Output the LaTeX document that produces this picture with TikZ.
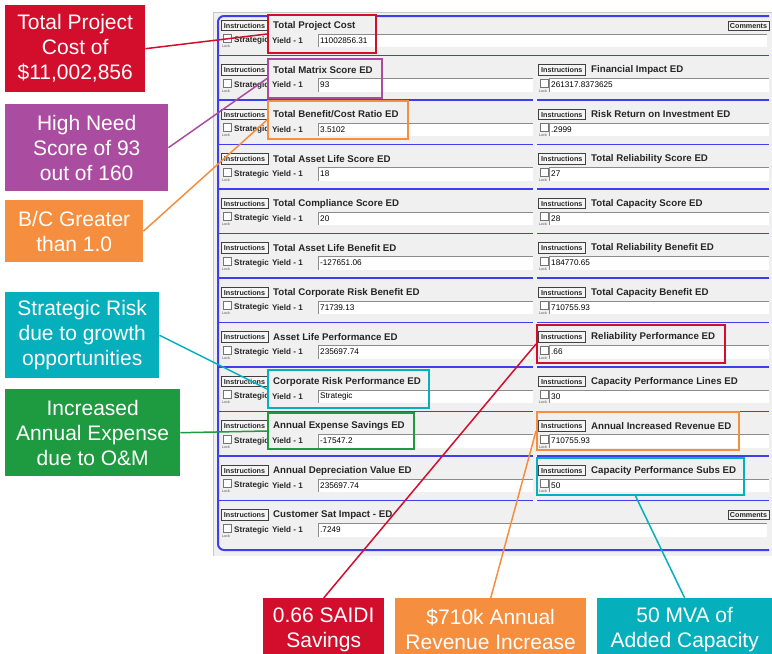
\documentclass[tikz,border=0pt]{standalone}
\usepackage{fontspec}
\setmainfont{Liberation Sans}
\newfontfamily\callfont{Liberation Sans}
\definecolor{formbg}{RGB}{240,240,240}
\definecolor{sepblue}{RGB}{62,62,238}
\definecolor{cred}{RGB}{210,14,44}
\definecolor{cpurple}{RGB}{170,77,160}
\definecolor{corange}{RGB}{245,142,62}
\definecolor{cteal}{RGB}{5,175,187}
\definecolor{cgreen}{RGB}{30,154,64}
\tikzset{
  btn/.style={draw=black!75, fill=black!4, line width=0.7pt, inner sep=0pt, minimum width=47pt, minimum height=10.5pt, font=\bfseries\fontsize{7.2}{8}\selectfont, text=black!85},
  cbtn/.style={btn, minimum width=41pt, minimum height=9.5pt},
  ttl/.style={anchor=west, inner sep=0pt, font=\bfseries\fontsize{9.7}{11}\selectfont, text=black!85},
  lbl/.style={inner sep=0pt, font=\bfseries\fontsize{8.1}{9}\selectfont, text=black!85},
  val/.style={anchor=west, inner sep=0pt, font=\fontsize{8.2}{9}\selectfont, text=black},
  chk/.style={draw=black!55, fill=white, line width=0.6pt, minimum size=8pt, inner sep=0pt},
  lck/.style={inner sep=0pt, font=\fontsize{3.6}{4}\selectfont, text=black!70},
  hbox/.style={draw=#1, line width=2pt, inner sep=0pt, anchor=north west},
  callout/.style={fill=#1, text=white, inner sep=0pt, anchor=north west, align=center, font=\callfont\fontsize{21}{25}\selectfont},
  conn/.style={draw=#1, line width=1.5pt},
  sep/.style={draw=sepblue, line width=1.8pt},
  fieldedge/.style={draw=black!45, line width=1pt},
}
\def\leftrows{11/Total Project Cost/11002856.31/767, 55.5/Total Matrix Score ED/93/533, 100/{Total Benefit/Cost Ratio ED}/3.5102/533, 144.5/Total Asset Life Score ED/18/533, 189/Total Compliance Score ED/20/533, 233.5/Total Asset Life Benefit ED/-127651.06/533, 278/Total Corporate Risk Benefit ED/71739.13/533, 322.5/Asset Life Performance ED/235697.74/533, 367/Corporate Risk Performance ED/Strategic/533, 411.5/Annual Expense Savings ED/-17547.2/533, 456/Annual Depreciation Value ED/235697.74/533, 500.5/Customer Sat Impact - ED/.7249/767}
\def\rightrows{55.5/Financial Impact ED/261317.8373625, 100/Risk Return on Investment ED/.2999, 144.5/Total Reliability Score ED/27, 189/Total Capacity Score ED/28, 233.5/Total Reliability Benefit ED/184770.65, 278/Total Capacity Benefit ED/710755.93, 322.5/Reliability Performance ED/.66, 367/Capacity Performance Lines ED/30, 411.5/Annual Increased Revenue ED/710755.93, 456/Capacity Performance Subs ED/50}
\begin{document}
\begin{tikzpicture}[x=1pt,y=-1pt]
\useasboundingbox (0,0) rectangle (772,654);
\clip (0,0) rectangle (772,654);
\fill[white] (0,0) rectangle (772,654);
% panel
\fill[formbg] (213,12) rectangle (772,556);
\draw[black!22, line width=0.8pt] (213,556) -- (213,12) -- (772,12);
% frame and separators
\draw[sep, line width=2pt, rounded corners=6pt] (769,16) -- (218,16) -- (218,550) -- (769,550);
\draw[sep] (218,55.5) -- (769,55.5);
\foreach \yy in {100,144.5,189,233.5,278,322.5,367,411.5,456,500.5} {
  \draw[sep] (218,\yy) -- (533,\yy);
  \draw[sep] (537,\yy) -- (769,\yy);
}
% left column: buttons, checkboxes, labels
\foreach \rt/\title/\val/\fe [count=\i] in \leftrows {
  \node[btn] (lb\i) at (244.5,{\rt+14.5}) {Instructions};
  \node[chk] (lc\i) at (227,{\rt+27.5}) {};
  \node[lck] (ll\i) at (226,{\rt+35.5}) {Lock};
  \node[lbl, anchor=west] (ls\i) at (234,{\rt+29.5}) {Strategic};
}
% highlight backgrounds on the left column
\fill[formbg] (267,14) rectangle (375,52);
\fill[formbg] (267,58) rectangle (381,97);
\fill[formbg] (267,100) rectangle (407,138);
\fill[formbg] (267,369) rectangle (428,407);
\fill[formbg] (267,412) rectangle (413,448);
% left column: titles, fields, values
\foreach \rt/\title/\val/\fe [count=\i] in \leftrows {
  \node[ttl] (lt\i) at (273,{\rt+14.5}) {\title};
  \node[lbl, anchor=east] (ly\i) at (303,{\rt+29.5}) {Yield - 1};
  \fill[white] (318,{\rt+23}) rectangle (\fe,{\rt+36});
  \draw[fieldedge] (318,{\rt+36}) -- (318,{\rt+23}) -- (\fe,{\rt+23});
  \node[val] (lv\i) at (320,{\rt+29.5}) {\val};
}
% right column
\foreach \rt/\title/\val [count=\i] in \rightrows {
  \node[btn] (rb\i) at (561.8,{\rt+14.5}) {Instructions};
  \node[ttl] (rt\i) at (591,{\rt+14.5}) {\title};
  \fill[white] (549,{\rt+23}) rectangle (769,{\rt+36});
  \draw[fieldedge] (549,{\rt+36}) -- (549,{\rt+23}) -- (769,{\rt+23});
  \node[chk] (rc\i) at (544,{\rt+27.5}) {};
  \node[lck] (rl\i) at (543,{\rt+35.5}) {Lock};
  \node[val] (rv\i) at (551,{\rt+29.5}) {\val};
}
% comments buttons
\node[cbtn] (cm1) at (748.5,26) {Comments};
\node[cbtn] (cm2) at (748.5,515) {Comments};
% highlight boxes
\node[hbox=cred, minimum width=108pt, minimum height=38pt] (h1) at (267,14) {};
\node[hbox=cpurple, minimum width=114pt, minimum height=39pt] (h2) at (267,58) {};
\node[hbox=corange, minimum width=140pt, minimum height=38pt] (h3) at (267,100) {};
\node[hbox=cteal, minimum width=161pt, minimum height=38pt] (h4) at (267,369) {};
\node[hbox=cgreen, minimum width=146pt, minimum height=36pt] (h5) at (267,412) {};
\node[hbox=cred, minimum width=188pt, minimum height=38pt] (h6) at (536,324) {};
\node[hbox=corange, minimum width=202pt, minimum height=38pt] (h7) at (536,411) {};
\node[hbox=cteal, minimum width=207pt, minimum height=37pt] (h8) at (536,457) {};
% callouts
\node[callout=cred, minimum width=140pt, minimum height=87pt] (c1) at (5,5) {Total Project\\Cost of\\\$11,002,856};
\node[callout=cpurple, minimum width=163pt, minimum height=87pt] (c2) at (5,104) {High Need\\Score of 93\\out of 160};
\node[callout=corange, minimum width=138pt, minimum height=62pt] (c3) at (5,200) {B/C Greater\\than 1.0};
\node[callout=cteal, minimum width=154pt, minimum height=86pt] (c4) at (5,292) {Strategic Risk\\due to growth\\opportunities};
\node[callout=cgreen, minimum width=175pt, minimum height=87pt] (c5) at (5,389) {Increased\\Annual Expense\\due to O\&M};
\node[callout=cred, minimum width=121pt, minimum height=63pt] (c6) at (263,598) {0.66 SAIDI\\Savings};
\node[callout=corange, minimum width=191pt, minimum height=63pt] (c7) at (395,598) {\$710k Annual\\Revenue Increase};
\node[callout=cteal, minimum width=175pt, minimum height=63pt] (c8) at (597,598) {50 MVA of\\Added Capacity};
% connectors
\draw[conn=cred] (c1.east) -- (h1.west);
\draw[conn=cpurple] (c2.east) -- (h2.west);
\draw[conn=corange] (c3.east) -- (h3.west);
\draw[conn=cteal] (c4.east) -- (h4.west);
\draw[conn=cgreen] (c5.east) -- (h5.west);
\draw[conn=cred] (c6.north) -- (h6.west);
\draw[conn=corange] (c7.north) -- (h7.west);
\draw[conn=cteal] (c8.north) -- ([xshift=-5pt]h8.south);
\end{tikzpicture}
\end{document}
